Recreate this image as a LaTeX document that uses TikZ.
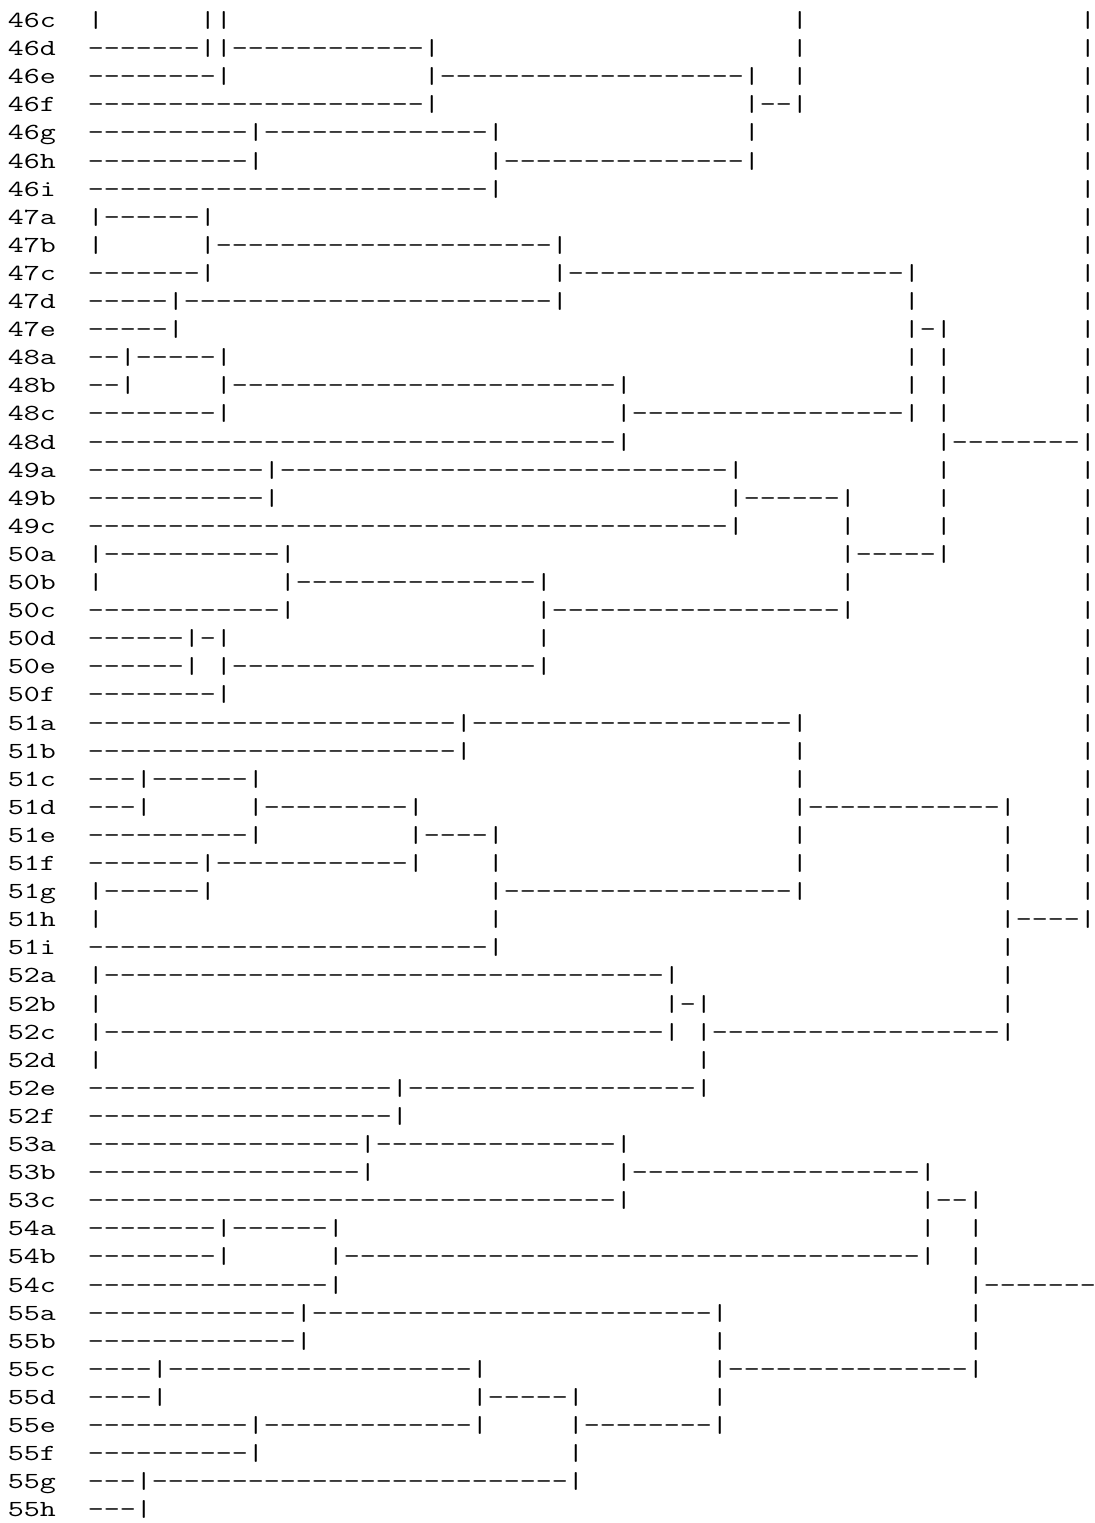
\documentclass[tikz,border=0pt]{standalone}
\usepackage{fontspec}
\usepackage{graphicx}
\ExplSyntaxOn
\NewDocumentCommand\xD{m}{\prg_replicate:nn{#1}{-}}
\ExplSyntaxOff
\newcommand\xS[1]{\phantom{\xD{#1}}}
\newcommand\rowtext[1]{\edef\chw{\the\fontcharwd\font`\-}\pgfmathsetmacro\xsc{8/\chw}\scalebox{\xsc}[1]{#1}}
\tikzset{rowtxt/.style={anchor=base west,inner sep=0pt,outer sep=0pt,font=\ttfamily\fontsize{11.5pt}{11.5pt}\selectfont}}
\begin{document}
\begin{tikzpicture}[x=0.5pt,y=-0.5pt]
\fill[white] (0,0) rectangle (1095,1523);
\useasboundingbox (0,0) rectangle (1095,1523);
\node[rowtxt] (r46c) at (8,{27.5+28.1*0}) {\rowtext{46c\xS{2}|\xS{6}||\xS{35}|\xS{17}|}};
\node[rowtxt] (r46d) at (8,{27.5+28.1*1}) {\rowtext{46d\xS{2}\xD{7}||\xD{12}|\xS{22}|\xS{17}|}};
\node[rowtxt] (r46e) at (8,{27.5+28.1*2}) {\rowtext{46e\xS{2}\xD{8}|\xS{12}|\xD{19}|\xS{2}|\xS{17}|}};
\node[rowtxt] (r46f) at (8,{27.5+28.1*3}) {\rowtext{46f\xS{2}\xD{21}|\xS{19}|\xD{2}|\xS{17}|}};
\node[rowtxt] (r46g) at (8,{27.5+28.1*4}) {\rowtext{46g\xS{2}\xD{10}|\xD{14}|\xS{15}|\xS{20}|}};
\node[rowtxt] (r46h) at (8,{27.5+28.1*5}) {\rowtext{46h\xS{2}\xD{10}|\xS{14}|\xD{15}|\xS{20}|}};
\node[rowtxt] (r46i) at (8,{27.5+28.1*6}) {\rowtext{46i\xS{2}\xD{25}|\xS{36}|}};
\node[rowtxt] (r47a) at (8,{27.5+28.1*7}) {\rowtext{47a\xS{2}|\xD{6}|\xS{54}|}};
\node[rowtxt] (r47b) at (8,{27.5+28.1*8}) {\rowtext{47b\xS{2}|\xS{6}|\xD{21}|\xS{32}|}};
\node[rowtxt] (r47c) at (8,{27.5+28.1*9}) {\rowtext{47c\xS{2}\xD{7}|\xS{21}|\xD{21}|\xS{10}|}};
\node[rowtxt] (r47d) at (8,{27.5+28.1*10}) {\rowtext{47d\xS{2}\xD{5}|\xD{23}|\xS{21}|\xS{10}|}};
\node[rowtxt] (r47e) at (8,{27.5+28.1*11}) {\rowtext{47e\xS{2}\xD{5}|\xS{45}|-|\xS{8}|}};
\node[rowtxt] (r48a) at (8,{27.5+28.1*12}) {\rowtext{48a\xS{2}\xD{2}|\xD{5}|\xS{42}|\xS{1}|\xS{8}|}};
\node[rowtxt] (r48b) at (8,{27.5+28.1*13}) {\rowtext{48b\xS{2}\xD{2}|\xS{5}|\xD{24}|\xS{17}|\xS{1}|\xS{8}|}};
\node[rowtxt] (r48c) at (8,{27.5+28.1*14}) {\rowtext{48c\xS{2}\xD{8}|\xS{24}|\xD{17}|\xS{1}|\xS{8}|}};
\node[rowtxt] (r48d) at (8,{27.5+28.1*15}) {\rowtext{48d\xS{2}\xD{33}|\xS{19}|\xD{8}|}};
\node[rowtxt] (r49a) at (8,{27.5+28.1*16}) {\rowtext{49a\xS{2}\xD{11}|\xD{28}|\xS{12}|\xS{8}|}};
\node[rowtxt] (r49b) at (8,{27.5+28.1*17}) {\rowtext{49b\xS{2}\xD{11}|\xS{28}|\xD{6}|\xS{5}|\xS{8}|}};
\node[rowtxt] (r49c) at (8,{27.5+28.1*18}) {\rowtext{49c\xS{2}\xD{40}|\xS{6}|\xS{5}|\xS{8}|}};
\node[rowtxt] (r50a) at (8,{27.5+28.1*19}) {\rowtext{50a\xS{2}|\xD{11}|\xS{34}|\xD{5}|\xS{8}|}};
\node[rowtxt] (r50b) at (8,{27.5+28.1*20}) {\rowtext{50b\xS{2}|\xS{11}|\xD{15}|\xS{18}|\xS{14}|}};
\node[rowtxt] (r50c) at (8,{27.5+28.1*21}) {\rowtext{50c\xS{2}\xD{12}|\xS{15}|\xD{18}|\xS{14}|}};
\node[rowtxt] (r50d) at (8,{27.5+28.1*22}) {\rowtext{50d\xS{2}\xD{6}|-|\xS{19}|\xS{33}|}};
\node[rowtxt] (r50e) at (8,{27.5+28.1*23}) {\rowtext{50e\xS{2}\xD{6}|\xS{1}|\xD{19}|\xS{33}|}};
\node[rowtxt] (r50f) at (8,{27.5+28.1*24}) {\rowtext{50f\xS{2}\xD{8}|\xS{53}|}};
\node[rowtxt] (r51a) at (8,{27.5+28.1*25}) {\rowtext{51a\xS{2}\xD{23}|\xD{20}|\xS{17}|}};
\node[rowtxt] (r51b) at (8,{27.5+28.1*26}) {\rowtext{51b\xS{2}\xD{23}|\xS{20}|\xS{17}|}};
\node[rowtxt] (r51c) at (8,{27.5+28.1*27}) {\rowtext{51c\xS{2}\xD{3}|\xD{6}|\xS{33}|\xS{17}|}};
\node[rowtxt] (r51d) at (8,{27.5+28.1*28}) {\rowtext{51d\xS{2}\xD{3}|\xS{6}|\xD{9}|\xS{23}|\xD{12}|\xS{4}|}};
\node[rowtxt] (r51e) at (8,{27.5+28.1*29}) {\rowtext{51e\xS{2}\xD{10}|\xS{9}|\xD{4}|\xS{18}|\xS{12}|\xS{4}|}};
\node[rowtxt] (r51f) at (8,{27.5+28.1*30}) {\rowtext{51f\xS{2}\xD{7}|\xD{12}|\xS{4}|\xS{18}|\xS{12}|\xS{4}|}};
\node[rowtxt] (r51g) at (8,{27.5+28.1*31}) {\rowtext{51g\xS{2}|\xD{6}|\xS{17}|\xD{18}|\xS{12}|\xS{4}|}};
\node[rowtxt] (r51h) at (8,{27.5+28.1*32}) {\rowtext{51h\xS{2}|\xS{24}|\xS{31}|\xD{4}|}};
\node[rowtxt] (r51i) at (8,{27.5+28.1*33}) {\rowtext{51i\xS{2}\xD{25}|\xS{31}|}};
\node[rowtxt] (r52a) at (8,{27.5+28.1*34}) {\rowtext{52a\xS{2}|\xD{35}|\xS{20}|}};
\node[rowtxt] (r52b) at (8,{27.5+28.1*35}) {\rowtext{52b\xS{2}|\xS{35}|-|\xS{18}|}};
\node[rowtxt] (r52c) at (8,{27.5+28.1*36}) {\rowtext{52c\xS{2}|\xD{35}|\xS{1}|\xD{18}|}};
\node[rowtxt] (r52d) at (8,{27.5+28.1*37}) {\rowtext{52d\xS{2}|\xS{37}|}};
\node[rowtxt] (r52e) at (8,{27.5+28.1*38}) {\rowtext{52e\xS{2}\xD{19}|\xD{18}|}};
\node[rowtxt] (r52f) at (8,{27.5+28.1*39}) {\rowtext{52f\xS{2}\xD{19}|}};
\node[rowtxt] (r53a) at (8,{27.5+28.1*40}) {\rowtext{53a\xS{2}\xD{17}|\xD{15}|}};
\node[rowtxt] (r53b) at (8,{27.5+28.1*41}) {\rowtext{53b\xS{2}\xD{17}|\xS{15}|\xD{18}|}};
\node[rowtxt] (r53c) at (8,{27.5+28.1*42}) {\rowtext{53c\xS{2}\xD{33}|\xS{18}|\xD{2}|}};
\node[rowtxt] (r54a) at (8,{27.5+28.1*43}) {\rowtext{54a\xS{2}\xD{8}|\xD{6}|\xS{36}|\xS{2}|}};
\node[rowtxt] (r54b) at (8,{27.5+28.1*44}) {\rowtext{54b\xS{2}\xD{8}|\xS{6}|\xD{36}|\xS{2}|}};
\node[rowtxt] (r54c) at (8,{27.5+28.1*45}) {\rowtext{54c\xS{2}\xD{15}|\xS{39}|\xD{7}}};
\node[rowtxt] (r55a) at (8,{27.5+28.1*46}) {\rowtext{55a\xS{2}\xD{13}|\xD{25}|\xS{15}|}};
\node[rowtxt] (r55b) at (8,{27.5+28.1*47}) {\rowtext{55b\xS{2}\xD{13}|\xS{25}|\xS{15}|}};
\node[rowtxt] (r55c) at (8,{27.5+28.1*48}) {\rowtext{55c\xS{2}\xD{4}|\xD{19}|\xS{14}|\xD{15}|}};
\node[rowtxt] (r55d) at (8,{27.5+28.1*49}) {\rowtext{55d\xS{2}\xD{4}|\xS{19}|\xD{5}|\xS{8}|}};
\node[rowtxt] (r55e) at (8,{27.5+28.1*50}) {\rowtext{55e\xS{2}\xD{10}|\xD{13}|\xS{5}|\xD{8}|}};
\node[rowtxt] (r55f) at (8,{27.5+28.1*51}) {\rowtext{55f\xS{2}\xD{10}|\xS{19}|}};
\node[rowtxt] (r55g) at (8,{27.5+28.1*52}) {\rowtext{55g\xS{2}\xD{3}|\xD{26}|}};
\node[rowtxt] (r55h) at (8,{27.5+28.1*53}) {\rowtext{55h\xS{2}\xD{3}|}};
\end{tikzpicture}
\end{document}
